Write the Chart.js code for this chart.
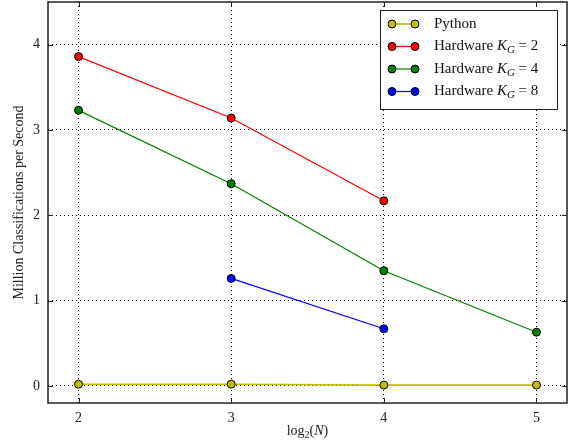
<!DOCTYPE html>
<html>
<head>
<meta charset="utf-8">
<script src="https://cdn.jsdelivr.net/npm/chart.js@4"></script>
<style>
  html, body { margin: 0; padding: 0; background: #fff; }
  #wrap { width: 571px; height: 444px; }
</style>
</head>
<body>
<div id="wrap"><canvas id="chart"></canvas></div>
<script>
// data
const logN = [2, 3, 4, 5];
const python = [0.02, 0.02, 0.01, 0.01];
const hwKg2 = [3.86, 3.14, 2.17, null];
const hwKg4 = [3.23, 2.37, 1.35, 0.63];
const hwKg8 = [null, 1.26, 0.67, null];
const xTicks = [2, 3, 4, 5];
const yTicks = [0, 1, 2, 3, 4];
const kgValues = [2, 4, 8];

const serif = '"Liberation Serif", "DejaVu Serif", serif';

function toPoints(vals) {
  return logN.map((x, i) => ({ x: x, y: vals[i] })).filter(p => p.y !== null);
}

function series(label, vals, color, lw) {
  return {
    label: label,
    data: toPoints(vals),
    borderColor: color,
    backgroundColor: color,
    borderWidth: lw,
    pointRadius: 4,
    pointBorderColor: '#000',
    pointBorderWidth: 1,
    pointBackgroundColor: color,
    tension: 0
  };
}

const datasets = [
  series('Python', python, '#bfbf00', 1.6),
  series('Hardware K_G = 2', hwKg2, '#ff0000', 1.2),
  series('Hardware K_G = 4', hwKg4, '#008000', 1.2),
  series('Hardware K_G = 8', hwKg8, '#0000ff', 1.2)
];

const decorations = {
  id: 'decorations',
  afterDraw(chart) {
    const ctx = chart.ctx;
    const a = chart.chartArea;
    const xs = chart.scales.x, ys = chart.scales.y;
    ctx.save();

    // frame
    ctx.strokeStyle = '#222';
    ctx.lineWidth = 1.5;
    ctx.strokeRect(a.left, a.top, a.right - a.left, a.bottom - a.top);

    // inward ticks on all sides
    ctx.lineWidth = 1;
    ctx.beginPath();
    xTicks.forEach(v => {
      const px = Math.round(xs.getPixelForValue(v)) + 0.5;
      ctx.moveTo(px, a.bottom); ctx.lineTo(px, a.bottom - 5);
      ctx.moveTo(px, a.top); ctx.lineTo(px, a.top + 5);
    });
    yTicks.forEach(v => {
      const py = Math.round(ys.getPixelForValue(v)) + 0.5;
      ctx.moveTo(a.left, py); ctx.lineTo(a.left + 5, py);
      ctx.moveTo(a.right, py); ctx.lineTo(a.right - 5, py);
    });
    ctx.stroke();

    // axis titles
    ctx.fillStyle = '#222';
    ctx.textBaseline = 'middle';
    ctx.save();
    ctx.translate(19, (a.top + a.bottom) / 2);
    ctx.rotate(-Math.PI / 2);
    ctx.textAlign = 'center';
    ctx.font = '14px ' + serif;
    ctx.fillText('Million Classifications per Second', 0, 0);
    ctx.restore();

    // log_2(N)
    ctx.textAlign = 'left';
    const parts = [
      { t: 'log', f: '14px ' + serif, dy: 0 },
      { t: '2', f: '10px ' + serif, dy: 4 },
      { t: '(', f: '14px ' + serif, dy: 0 },
      { t: 'N', f: 'italic 14px ' + serif, dy: 0 },
      { t: ')', f: '14px ' + serif, dy: 0 }
    ];
    let total = 0;
    parts.forEach(p => { ctx.font = p.f; p.w = ctx.measureText(p.t).width; total += p.w; });
    let cx = (a.left + a.right) / 2 - total / 2;
    const ty = 431;
    parts.forEach(p => { ctx.font = p.f; ctx.fillText(p.t, cx, ty + p.dy); cx += p.w; });

    // legend
    const lx = 380, ly = 10, lw = 177, lh = 99;
    ctx.fillStyle = '#fff';
    ctx.fillRect(lx, ly, lw, lh);
    ctx.strokeStyle = '#222';
    ctx.lineWidth = 1;
    ctx.strokeRect(lx + 0.5, ly + 0.5, lw, lh);
    const rows = [24, 46.5, 69, 91.5];
    chart.data.datasets.forEach((ds, i) => {
      const y = rows[i];
      ctx.strokeStyle = ds.borderColor;
      ctx.lineWidth = ds.borderWidth;
      ctx.beginPath();
      ctx.moveTo(392, y); ctx.lineTo(415, y);
      ctx.stroke();
      [392, 415].forEach(mx => {
        ctx.beginPath();
        ctx.arc(mx, y, 4, 0, Math.PI * 2);
        ctx.fillStyle = ds.backgroundColor;
        ctx.fill();
        ctx.strokeStyle = '#000';
        ctx.lineWidth = 1;
        ctx.stroke();
      });
      ctx.fillStyle = '#111';
      let tx = 434;
      if (i === 0) {
        ctx.font = '15px ' + serif;
        ctx.fillText('Python', tx, y);
      } else {
        const segs = [
          { t: 'Hardware ', f: '15px ' + serif, dy: 0 },
          { t: 'K', f: 'italic 15px ' + serif, dy: 0 },
          { t: 'G', f: 'italic 11px ' + serif, dy: 4 },
          { t: ' = ' + kgValues[i - 1], f: '15px ' + serif, dy: 0 }
        ];
        segs.forEach(s => {
          ctx.font = s.f;
          ctx.fillText(s.t, tx, y + s.dy);
          tx += ctx.measureText(s.t).width;
        });
      }
    });
    ctx.restore();
  }
};

new Chart(document.getElementById('chart'), {
  type: 'line',
  data: { datasets: datasets },
  options: {
    responsive: true,
    maintainAspectRatio: false,
    animation: false,
    layout: { autoPadding: false, padding: { left: 0, top: 2, right: 4, bottom: 0 } },
    plugins: {
      legend: { display: false },
      tooltip: { enabled: false }
    },
    scales: {
      x: {
        type: 'linear',
        min: 1.8,
        max: 5.2,
        afterBuildTicks: s => { s.ticks = xTicks.map(v => ({ value: v })); },
        afterFit: s => { s.height = 41; s.paddingLeft = 0; s.paddingRight = 0; },
        grid: { color: '#000', lineWidth: 1, drawTicks: false },
        border: { display: false, dash: [1, 3] },
        ticks: { padding: 7, color: '#222', font: { family: serif, size: 14 } }
      },
      y: {
        min: -0.2,
        max: 4.5,
        afterBuildTicks: s => { s.ticks = yTicks.map(v => ({ value: v })); },
        afterFit: s => { s.width = 48; s.paddingTop = 0; s.paddingBottom = 0; },
        grid: { color: '#000', lineWidth: 1, drawTicks: false },
        border: { display: false, dash: [1, 3] },
        ticks: { padding: 8, color: '#222', font: { family: serif, size: 14 } }
      }
    }
  },
  plugins: [decorations]
});
</script>
</body>
</html>
